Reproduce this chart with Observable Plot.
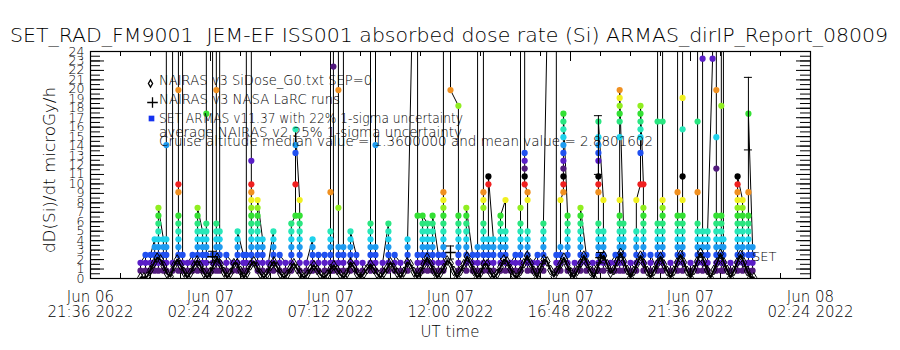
<!DOCTYPE html>
<html><head><meta charset="utf-8">
<script src="https://cdn.jsdelivr.net/npm/d3@7"></script>
<script src="https://cdn.jsdelivr.net/npm/@observablehq/plot@0.6"></script>
<style>
body{margin:0;background:#fff;}
#chart{width:900px;height:350px;overflow:hidden;}
svg text{font-weight:200;}
</style></head><body><div id="chart"></div>
<script>
// ---------- texts ----------
const titleText = "SET_RAD_FM9001  JEM-EF ISS001 absorbed dose rate (Si) ARMAS_dirIP_Report_08009";
const yLabelText = "dD(Si)/dt microGy/h";
const xLabelText = "UT time";
const legendTexts = [
  "NAIRAS v3 SiDose_G0.txt SEP=0",
  "NAIRAS v3 NASA LaRC runs",
  "SET ARMAS v11.37 with 22% 1-sigma uncertainty",
  "average NAIRAS v2 25% 1-sigma uncertainty",
  "Cruise altitude median value = 1.3600000 and mean value = 2.8801602"
];
const endLabel = "SET";

// ---------- axes ----------
const xStart = "2022-06-06T21:36Z";
const xEnd = "2022-06-08T02:24Z";
const xTickDates = ["2022-06-06T21:36Z","2022-06-07T02:24Z","2022-06-07T07:12Z","2022-06-07T12:00Z","2022-06-07T16:48Z","2022-06-07T21:36Z","2022-06-08T02:24Z"];
const xTickLabels = ["Jun 06\n21:36 2022","Jun 07\n02:24 2022","Jun 07\n07:12 2022","Jun 07\n12:00 2022","Jun 07\n16:48 2022","Jun 07\n21:36 2022","Jun 08\n02:24 2022"];
const xMinorStepMinutes = 72;
const yTickValues = [0,1,2,3,4,5,6,7,8,9,10,11,12,13,14,15,16,17,18,19,20,21,22,23,24];

// ---------- SET ARMAS (quantized dose levels) ----------
// dose = level * doseStep ; tokens "minutes-after-xStart:levels" (base-36 digits, z = off-scale spike)
const doseStep = 0.83;
const setColumns = `
120:12 132:321 144:123 154:54321 163:123456789 175:54321 182:12345hz 197:z21
211:12345678bcoz 221:z321 233:12 245:321 257:123456789 269:654321 278:1234567lz
293:z321 302:1234567oz 310:z654321 326:123 341:21 353:123456 367:321 374:123z
386:zfcba98765432 401:123456789a 413:54321 427:12 439:654321 454:123 468:21
482:1234567 492:8cghj 502:a87654321 518:12 533:54321 547:123 562:321 576:123456bz
583:zr21 595:12349oz 607:z4321 624:123456 638:321 653:12 672:1234567z 684:zh4321
701:12 715:7654321 730:123 744:21 761:12345 773:z 785:z8321 797:12345678 809:7654321
821:12345678 835:321 847:123456789abz 864:zo 883:m87654321 902:123456789 917:321
929:1234z 943:zba97654321 955:12345cd 967:54321 984:12345678 996:a654321 1008:12
1020:321 1032:12345679z 1042:zgfedc 1049:ba654321 1061:12 1073:321 1087:1234567
1097:z 1118:z321 1128:1234a 1135:bcdefghijkl 1145:87654321 1162:12 1176:123456789
1190:321 1205:12 1219:1234567bcdfghik 1231:a654321 1248:12 1260:321
1270:12345678aiklmno 1279:7654321 1296:12 1310:123456a 1320:cgijklm 1327:c987654321
1344:123 1361:1234567kz 1373:zka987654321 1392:12 1409:12345678bz 1421:znjda87654321
1440:12 1457:1234567bkz 1469:zs654321 1481:123456 1493:sz 1502:zoie87654321
1514:12345678mz 1519:z54321 1536:12 1553:123456789abcd 1565:a987654321
1579:12345678bl 1589:4321`;
const setErrMinutes = [1219, 1579];
const setErrLevels = [17, 21];
const setUncertainty = 0.22;

// ---------- NAIRAS v3 SiDose (8-minute samples) ----------
const nairasStart = "2022-06-06T23:36Z";
const nairasStepMinutes = 8;
const nairasDose = [
0.1,0.1,0.2,0.9,1.6,2.2,2.0,1.3,0.5,
0.2,1.3,2.0,1.4,0.7,0.1,
0.6,1.3,1.9,1.3,0.6,0.1,
0.7,1.5,2.2,1.5,0.7,0.1,
0.6,1.6,1.6,0.8,0.1,
0.6,1.4,1.8,1.2,0.5,0.1,
0.5,1.3,1.8,1.2,0.5,0.1,
0.4,1.1,1.6,1.0,0.5,0.1,
0.4,1.0,1.4,0.9,0.4,0.1,
0.4,1.0,1.4,0.9,0.4,0.1,
0.6,1.7,1.2,0.5,0.1,
0.5,1.0,1.5,1.0,0.5,0.1,
0.6,1.1,1.7,1.1,0.6,0.1,
0.7,1.7,1.5,0.7,0.1,
0.7,1.5,2.2,1.5,0.8,0.1,
0.6,1.1,1.9,1.6,0.8,0.1,
0.8,1.5,2.3,1.6,0.8,0.1,
0.6,1.5,1.5,0.6,0.1,
0.5,1.2,2.0,1.8,1.0,0.3,0.1,
0.8,1.6,2.4,1.6,0.8,0.1,
1.1,2.0,1.8,0.9,0.2,
0.8,1.5,2.2,1.4,0.7,0.1,
0.8,1.6,2.4,1.6,0.8,0.1,
1.0,2.1,2.4,1.5,0.6,
0.9,1.8,2.7,1.8,0.9,0.1,
0.8,1.6,2.4,1.6,0.8,0.1,
0.8,1.5,2.3,1.5,0.8,0.1,
0.8,1.7,2.5,1.7,0.8,0.1,
0.9,1.8,2.7,1.8,0.9,0.1,
0.9,1.7,2.6,1.7,0.9,0.1,
0.8,1.7,2.5,1.7,0.8,0.1,0.1];

// ---------- NAIRAS v3 NASA LaRC runs ----------
const larcMinutes = [293, 864, 1224];
const larcDose = [2.3, 2.75, 2.2];
const larcUncertainty = 0.25;

// ---------- palette (cyclic, by level mod 13) ----------
const levelPalette = ["#000000","#521a7d","#5a1ec8","#2050f0","#1e9bf0","#1ed2ec","#28e8b8","#2ae680","#34e034","#90ee20","#f0f020","#f09020","#f02020"];

// ---------- build tables ----------
const t0 = Date.parse(xStart);
const minToDate = m => new Date(t0 + m * 60000);
const setPts = [];
setColumns.trim().split(/\s+/).forEach(tok => {
  const [m, lv] = tok.split(":");
  for (const c of lv) {
    const level = parseInt(c, 36);
    setPts.push({t: minToDate(+m), level, v: level * doseStep});
  }
});
const n0 = Date.parse(nairasStart);
const nairas = nairasDose.map((v, i) => ({t: new Date(n0 + i * nairasStepMinutes * 60000), v}));
const larc = larcMinutes.map((m, i) => ({t: minToDate(m), v: larcDose[i], lo: larcDose[i]*(1-larcUncertainty), hi: larcDose[i]*(1+larcUncertainty)}));
const setErr = setErrMinutes.map((m, i) => {
  const v = setErrLevels[i] * doseStep;
  return {t: minToDate(m), v, lo: v*(1-setUncertainty), hi: v*(1+setUncertainty)};
});
const majorDates = xTickDates.map(d => new Date(d));
const labelMap = new Map(majorDates.map((d, i) => [+d, xTickLabels[i]]));
const spanMin = (Date.parse(xEnd) - t0) / 60000;
const minorDates = d3.range(0, spanMin + 1, xMinorStepMinutes).map(minToDate);
const yHalf = d3.range(0, 24.01, 0.5);
const yInt = yHalf.filter(v => v % 1 === 0);

const FW = 720, FH = 227;
const font = "DejaVu Sans";

const chart = Plot.plot({
  width: 900, height: 350,
  marginLeft: 90, marginRight: 90, marginTop: 51, marginBottom: 72,
  x: {type: "utc", domain: [new Date(xStart), new Date(xEnd)]},
  y: {domain: [0, 24]},
  color: {type: "ordinal", domain: d3.range(13), range: levelPalette},
  style: {fontFamily: font, background: "white", color: "black", overflow: "visible"},
  marks: [
    Plot.axisX({ticks: majorDates, tickFormat: d => labelMap.get(+d), tickSize: 0, tickPadding: 13, fontSize: 15, lineHeight: 1, label: null}),
    Plot.axisY({ticks: yTickValues, tickSize: 0, tickPadding: 6, fontSize: 12.5, label: null}),
    // SET ARMAS
    Plot.line(setPts, {x: "t", y: "v", stroke: "black", strokeWidth: 1, clip: true}),
    Plot.dot(setPts, {x: "t", y: "v", fill: d => d.level % 13, r: 3.1, clip: true}),
    Plot.ruleX(setErr, {x: "t", y1: "lo", y2: "hi", stroke: "black"}),
    Plot.ruleY(setErr, {y: "hi", x1: "t", x2: "t", insetLeft: -4, insetRight: -4, stroke: "black"}),
    Plot.ruleY(setErr, {y: "lo", x1: "t", x2: "t", insetLeft: -4, insetRight: -4, stroke: "black"}),
    // NAIRAS v3 SiDose
    Plot.line(nairas, {x: "t", y: "v", stroke: "black", strokeWidth: 2, clip: true}),
    Plot.dot(nairas, {x: "t", y: "v", symbol: "diamond", r: 3, stroke: "black", strokeWidth: 1, fill: "none", clip: true}),
    // NASA LaRC runs
    Plot.ruleX(larc, {x: "t", y1: "lo", y2: "hi", stroke: "black"}),
    Plot.ruleY(larc, {y: "hi", x1: "t", x2: "t", insetLeft: -4, insetRight: -4, stroke: "black"}),
    Plot.ruleY(larc, {y: "lo", x1: "t", x2: "t", insetLeft: -4, insetRight: -4, stroke: "black"}),
    Plot.dot(larc, {x: "t", y: "v", symbol: "plus", r: 3.5, stroke: "black", strokeWidth: 1.3}),
    // tick marks (inward)
    Plot.ruleX(minorDates, {insetTop: FH - 5, stroke: "black"}),
    Plot.ruleX(minorDates, {insetBottom: FH - 5, stroke: "black"}),
    Plot.ruleX(majorDates, {insetTop: FH - 10, stroke: "black"}),
    Plot.ruleX(majorDates, {insetBottom: FH - 10, stroke: "black"}),
    Plot.ruleY(yHalf, {insetRight: FW - 10, stroke: "black"}),
    Plot.ruleY(yInt, {insetRight: FW - 14, stroke: "black"}),
    Plot.ruleY(yHalf, {insetLeft: FW - 10, stroke: "black"}),
    Plot.ruleY(yInt, {insetLeft: FW - 14, stroke: "black"}),
    // legend symbols
    Plot.dot([0], {frameAnchor: "top-left", dx: 60, dy: 32, symbol: "diamond", r: 2.2, stroke: "black", fill: "none", strokeWidth: 1.3}),
    Plot.dot([0], {frameAnchor: "top-left", dx: 62, dy: 51, symbol: "plus", r: 3.5, stroke: "black", strokeWidth: 1.3}),
    Plot.dot([0], {frameAnchor: "top-left", dx: 61, dy: 67, symbol: "square", r: 3.2, fill: "#1432f0"}),
    Plot.frame({stroke: "black", strokeWidth: 1.2})
  ]
});
document.getElementById("chart").append(chart);

// free texts
const svg = d3.select(chart);
function addText(txt, x, y, size, opts = {}) {
  const t = svg.append("text").attr("x", x).attr("y", y)
    .attr("font-family", font).attr("font-size", size).attr("fill", "black")
    .attr("text-anchor", opts.anchor || "start").text(txt);
  if (opts.len) t.attr("textLength", opts.len).attr("lengthAdjust", "spacingAndGlyphs");
  if (opts.rotate) t.attr("transform", `rotate(-90 ${x} ${y})`);
  return t;
}
addText(titleText, 10, 42, 20, {len: 878});
addText(yLabelText, 55, 170, 16, {anchor: "middle", len: 166, rotate: true});
addText(xLabelText, 450, 337, 15, {anchor: "middle"});
addText(legendTexts[0], 159, 85, 13.5, {len: 213});
addText(legendTexts[1], 159, 104, 13.5, {len: 181});
addText(legendTexts[2], 159, 123, 13.5, {len: 304});
addText(legendTexts[3], 159, 137, 13.5, {len: 303});
addText(legendTexts[4], 159, 146, 13.5, {len: 494});
addText(endLabel, 752, 261, 13);
</script></body></html>
